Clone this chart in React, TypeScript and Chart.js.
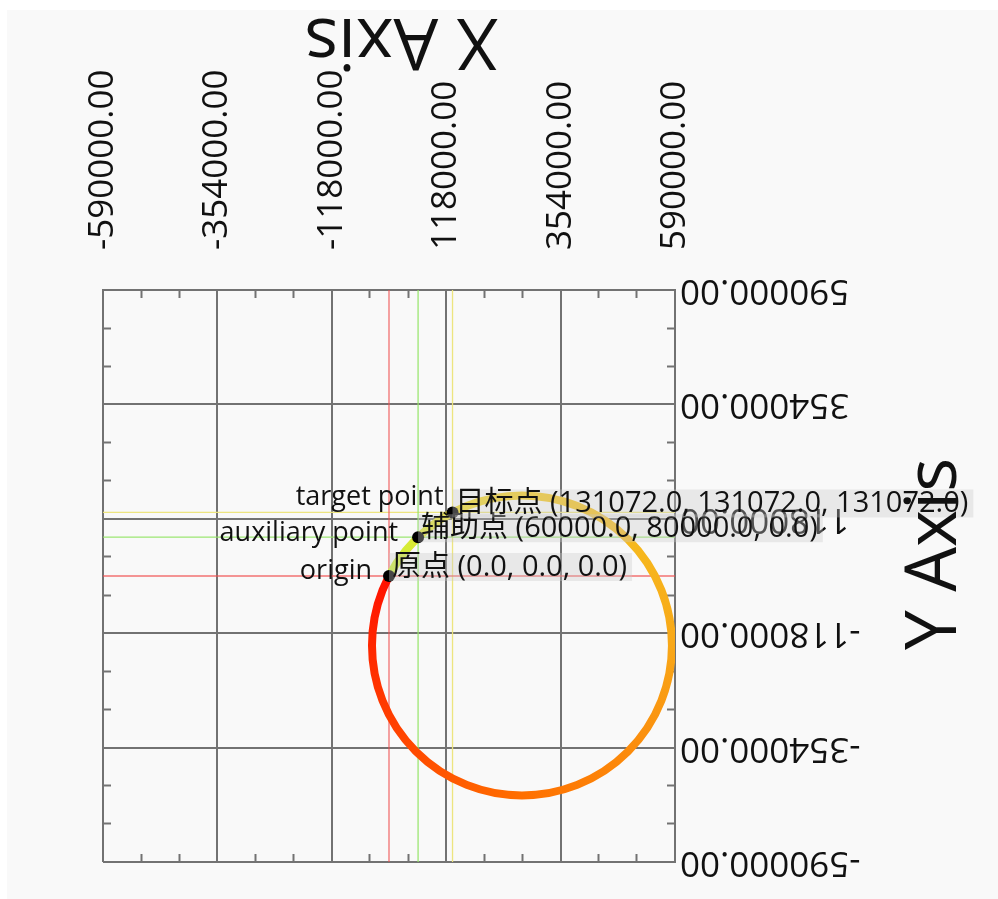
import React, { useEffect, useRef } from 'react';
import { Chart, registerables } from 'chart.js';

Chart.register(...registerables);

// ---- axis data ----
const axisMin = -590000;
const axisMax = 590000;
const majorTicks = [-590000, -354000, -118000, 118000, 354000, 590000];
const minorTicks = [-511333, -432667, -275333, -196667, -39333, 39333, 196667, 275333, 432667, 511333];
const xTitle = 'X Axis';
const yTitle = 'Y Axis';

// ---- reference points ----
const pointNames = ['origin', 'auxiliary point', 'target point'];
const pointTags = ['原点', '辅助点', '目标点'];
const pointX = [0, 60000, 131072];
const pointY = [0, 80000, 131072];
const pointZ = [0, 0, 131072];

// ---- arc through the points (estimated) ----
const arcCenterX = 274300;
const arcCenterY = -143200;
const arcRadius = 309400;

// ---- styles ----
const GRID = '#727272';
const TEXT = '#111111';
const FONT = '"Open Sans", "Noto Sans CJK SC", sans-serif';
const guideColors = ['rgba(240,80,80,0.8)', 'rgba(145,228,100,0.9)', 'rgba(236,228,120,0.95)'];
const arcStops: [number, string][] = [
  [0, '#c8f03c'], [0.05, '#dcea34'], [0.1, '#eedc2c'], [0.17, '#f4cc24'],
  [0.42, '#f8a818'], [0.67, '#ff7000'], [0.92, '#ff2800'], [1, '#ff1000'],
];
const leftLabelShift: [number, number][] = [[-17, 3], [-20, 4], [-9, -7]];

const fixTicks = (vals: number[]) => (scale: any) => {
  scale.ticks = vals.map((v) => ({ value: v }));
};

function arcGradient(c: any) {
  const chart = c.chart;
  const xs = chart.scales.x;
  const ys = chart.scales.y;
  if (!xs || !ys || !chart.chartArea) return '#ff8000';
  const cx = xs.getPixelForValue(arcCenterX);
  const cy = ys.getPixelForValue(arcCenterY);
  const ox = xs.getPixelForValue(pointX[0]);
  const oy = ys.getPixelForValue(pointY[0]);
  const start = Math.atan2(oy - cy, ox - cx);
  const g = chart.ctx.createConicGradient(start, cx, cy);
  arcStops.forEach(([t, col]) => g.addColorStop(t, col));
  return g;
}

function arcPixelRadius(c: any) {
  const xs = c.chart.scales.x;
  if (!xs || !c.chart.chartArea) return 0;
  return Math.abs(xs.getPixelForValue(arcCenterX + arcRadius) - xs.getPixelForValue(arcCenterX));
}

const bgPlugin = {
  id: 'pageBg',
  beforeDraw(chart: any) {
    const { ctx, width, height } = chart;
    ctx.save();
    ctx.fillStyle = '#ffffff';
    ctx.fillRect(0, 0, width, height);
    ctx.fillStyle = '#f9f9f9';
    ctx.fillRect(7, 10, width - 7, height - 10);
    ctx.restore();
  },
};

const POINTS_INDEX = 6;

const labelPlugin = {
  id: 'pointLabels',
  afterDatasetsDraw(chart: any) {
    const meta = chart.getDatasetMeta(POINTS_INDEX);
    const ctx = chart.ctx;
    ctx.save();
    meta.data.forEach((el: any, i: number) => {
      const x = el.x;
      const y = el.y;
      ctx.font = `27px ${FONT}`;
      ctx.textAlign = 'right';
      ctx.textBaseline = 'alphabetic';
      ctx.fillStyle = TEXT;
      ctx.fillText(pointNames[i], x + leftLabelShift[i][0], y + leftLabelShift[i][1]);
      const txt = `${pointTags[i]} (${pointX[i].toFixed(1)}, ${pointY[i].toFixed(1)}, ${pointZ[i].toFixed(1)})`;
      ctx.font = `29px ${FONT}`;
      ctx.textAlign = 'left';
      const w = ctx.measureText(txt).width;
      ctx.fillStyle = 'rgba(200,200,200,0.35)';
      ctx.fillRect(x, y - 23, w + 8, 28);
      ctx.fillStyle = TEXT;
      ctx.fillText(txt, x + 3, y);
    });
    ctx.restore();
  },
};

const titlePlugin = {
  id: 'axisTitles',
  afterDraw(chart: any) {
    const { ctx, chartArea } = chart;
    ctx.save();
    ctx.font = `71px ${FONT}`;
    ctx.fillStyle = TEXT;
    ctx.textAlign = 'center';
    ctx.textBaseline = 'middle';
    ctx.save();
    ctx.translate((chartArea.left + chartArea.right) / 2 + 12, 39);
    ctx.rotate(Math.PI);
    ctx.fillText(xTitle, 0, 0);
    ctx.restore();
    ctx.save();
    ctx.translate(936, 554);
    ctx.rotate(-Math.PI / 2);
    ctx.fillText(yTitle, 0, 0);
    ctx.restore();
    ctx.restore();
  },
};

function minorAxis(position: string) {
  const horizontal = position === 'top' || position === 'bottom';
  return {
    type: 'linear',
    position,
    weight: 0,
    min: axisMin,
    max: axisMax,
    afterBuildTicks: fixTicks(minorTicks),
    afterFit: (s: any) => {
      if (horizontal) s.height = 0;
      else s.width = 0;
    },
    ticks: { display: false },
    grid: { display: true, drawOnChartArea: false, drawTicks: true, tickLength: -8, tickColor: GRID, tickWidth: 2 },
    border: { display: false },
  };
}

export default function App() {
  const ref = useRef<HTMLCanvasElement>(null);
  useEffect(() => {
    const canvas = ref.current;
    if (!canvas) return;
    const guides: any[] = [];
    pointX.forEach((px, i) => {
      guides.push({
        data: [{ x: px, y: axisMin }, { x: px, y: axisMax }],
        showLine: true, pointRadius: 0, borderColor: guideColors[i], borderWidth: 1.3, order: 3,
      });
      guides.push({
        data: [{ x: axisMin, y: pointY[i] }, { x: axisMax, y: pointY[i] }],
        showLine: true, pointRadius: 0, borderColor: guideColors[i], borderWidth: 1.3, order: 3,
      });
    });
    const chart = new Chart(canvas, {
      type: 'scatter',
      data: {
        datasets: [
          ...guides,
          {
            data: pointX.map((x, i) => ({ x, y: pointY[i] })),
            pointRadius: 6,
            pointBackgroundColor: '#000',
            pointBorderColor: '#000',
            pointBorderWidth: 0,
            order: 0,
          },
          {
            data: [{ x: arcCenterX, y: arcCenterY }],
            pointRadius: arcPixelRadius,
            pointBorderWidth: 8,
            pointBackgroundColor: 'rgba(0,0,0,0)',
            pointBorderColor: arcGradient,
            order: 1,
          },
        ],
      },
      options: {
        responsive: false,
        animation: false,
        events: [],
        layout: { padding: { left: 103, right: 0, top: 0, bottom: 37 } },
        plugins: { legend: { display: false }, tooltip: { enabled: false }, title: { display: false } },
        scales: {
          x: {
            type: 'linear', position: 'top', weight: 1, min: axisMin, max: axisMax,
            afterBuildTicks: fixTicks(majorTicks),
            afterFit: (s: any) => { s.height = 290; },
            grid: { color: GRID, lineWidth: 2, drawTicks: false },
            border: { color: GRID, width: 2 },
            ticks: {
              autoSkip: false, minRotation: 90, maxRotation: 90, padding: 40, labelOffset: 42,
              color: TEXT, font: { family: FONT, size: 35 },
              callback: (v: any) => Number(v).toFixed(2),
            },
          },
          y: {
            type: 'linear', position: 'right', weight: 1, min: axisMin, max: axisMax,
            afterBuildTicks: fixTicks(majorTicks),
            afterFit: (s: any) => { s.width = 323; },
            grid: { color: GRID, lineWidth: 2, drawTicks: false },
            border: { color: GRID, width: 2 },
            ticks: {
              autoSkip: false, minRotation: 180, maxRotation: 180, mirror: true, padding: 5,
              color: TEXT, font: { family: FONT, size: 35 },
              callback: (v: any) => Number(v).toFixed(2),
            },
          },
          xMinorTop: minorAxis('top'),
          xMinorBottom: minorAxis('bottom'),
          yMinorLeft: minorAxis('left'),
          yMinorRight: minorAxis('right'),
        } as any,
      },
      plugins: [bgPlugin, labelPlugin, titlePlugin],
    } as any);
    return () => chart.destroy();
  }, []);
  return (
    <div style={{ position: 'absolute', left: 0, top: 0, width: 998, height: 899 }}>
      <canvas ref={ref} width={998} height={899} style={{ display: 'block', width: 998, height: 899 }} />
    </div>
  );
}
